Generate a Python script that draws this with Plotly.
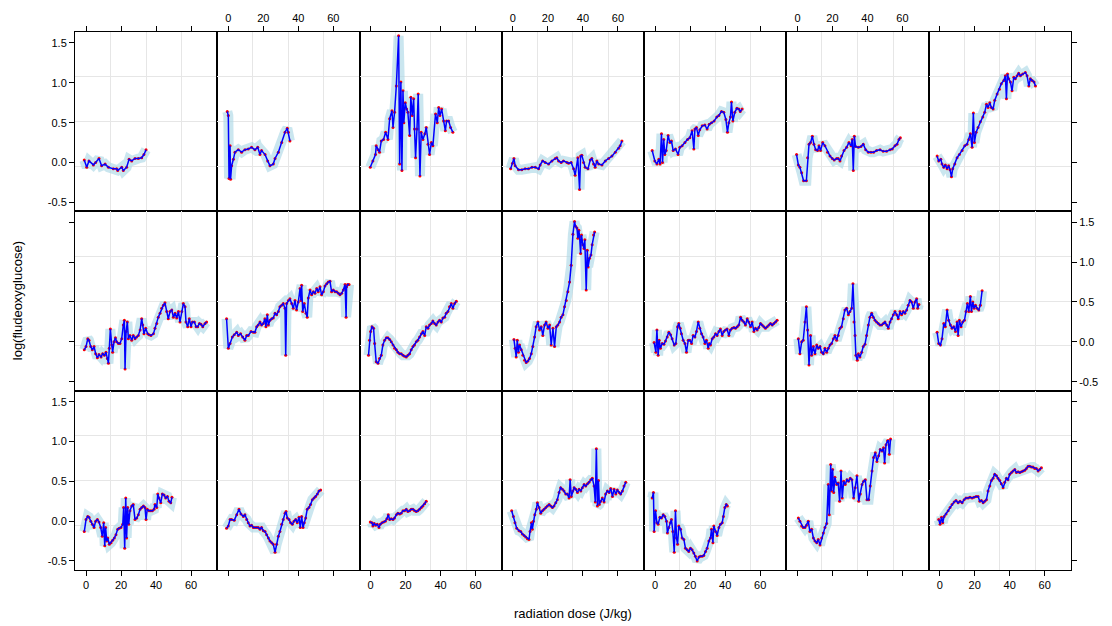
import plotly.graph_objects as go
from plotly.subplots import make_subplots

# ---------------- data ----------------
dose_r1c1 = [-1.0, 0.4, 1.7, 4.2, 5.5, 7.4, 8.9, 10.9, 12.8, 15.6, 17.5, 18.1, 20.4, 21.3, 23.2, 24.6, 26.1, 28.0, 29.9, 31.8, 33.1, 34.3]
fdg_r1c1 = [0.03, -0.06, 0.02, -0.03, 0.0, 0.05, -0.04, -0.02, -0.06, -0.08, -0.08, -0.10, -0.06, -0.10, -0.06, 0.04, 0.02, 0.05, 0.05, 0.06, 0.10, 0.16]

dose_r1c2 = [-0.6, 0.0, 0.4, 1.0, 1.3, 1.9, 2.9, 3.8, 5.7, 7.6, 9.5, 11.4, 13.3, 15.2, 16.8, 18.1, 19.0, 21.0, 22.5, 23.8, 25.7, 26.7, 28.6, 30.5, 32.4, 33.7, 34.3, 35.2]
fdg_r1c2 = [0.64, 0.59, -0.20, 0.21, -0.21, -0.04, 0.04, 0.13, 0.16, 0.13, 0.16, 0.17, 0.19, 0.16, 0.19, 0.10, 0.15, 0.10, 0.02, -0.04, -0.02, 0.05, 0.13, 0.25, 0.38, 0.43, 0.38, 0.27]

dose_r1c3 = [-0.2, 1.3, 2.8, 3.2, 4.2, 5.1, 6.1, 7.4, 8.6, 9.9, 10.9, 12.2, 12.8, 13.7, 14.7, 16.0, 16.6, 17.3, 17.9, 18.5,
             19.0, 19.8, 20.6, 21.3, 22.3, 23.0, 23.8, 24.6, 25.1, 25.7, 26.5, 27.2, 28.2, 28.9, 29.9, 31.0, 31.8, 32.8, 33.7, 34.7,
             35.6, 37.1, 38.1, 38.9, 39.6, 40.6, 41.7, 42.7, 43.4, 44.6, 45.7, 47.0]
fdg_r1c3 = [-0.06, 0.02, 0.10, 0.21, 0.16, 0.13, 0.27, 0.29, 0.38, 0.29, 0.55, 0.65, 0.44, 0.63, 0.96, 1.59, -0.02, 1.01, -0.10, 0.90,
            0.50, 0.75, 0.67, 0.63, 0.34, 0.82, 0.59, 0.80, 0.42, 0.06, 0.42, 0.86, -0.17, 0.38, 0.29, 0.36, 0.44, 0.23, 0.10, 0.25,
            0.21, 0.61, 0.50, 0.69, 0.59, 0.67, 0.52, 0.40, 0.52, 0.52, 0.44, 0.38]

dose_r1c4 = [-1.3, -0.2, 0.6, 1.3, 3.2, 5.1, 7.0, 8.9, 10.9, 12.8, 14.7, 15.6, 17.0, 18.5, 20.4, 22.3, 24.2, 25.1, 26.1, 27.6,
             28.9, 30.9, 31.8, 33.3, 34.7, 35.6, 37.1, 38.1, 38.7, 39.4, 40.4, 41.3, 42.9, 44.2, 45.1, 46.1, 47.0, 48.0, 49.0, 50.9,
             52.8, 54.7, 56.6, 58.5, 60.4, 61.3, 62.3]
fdg_r1c4 = [-0.08, -0.01, 0.05, -0.04, -0.09, -0.09, -0.08, -0.08, -0.06, -0.06, -0.08, -0.03, 0.02, 0.0, -0.02, 0.02, 0.05, 0.06, 0.02, 0.0,
            0.02, 0.0, -0.01, 0.0, -0.08, -0.16, 0.06, -0.34, 0.08, 0.09, 0.0, -0.06, -0.08, 0.03, 0.05, -0.02, -0.06, 0.02, -0.02, -0.03,
            0.02, 0.05, 0.08, 0.13, 0.18, 0.21, 0.27]

dose_r1c5 = [-1.7, -0.2, 1.0, 2.1, 2.8, 3.6, 4.2, 4.9, 5.5, 6.3, 7.4, 8.4, 9.3, 10.3, 11.6, 13.1, 14.1, 15.4, 17.0, 18.5,
             19.8, 21.1, 22.1, 22.7, 23.6, 24.6, 25.5, 26.9, 28.4, 29.7, 30.9, 32.2, 33.7, 35.2, 36.4, 37.9, 39.2, 40.4, 41.3, 42.1,
             43.0, 43.6, 44.4, 45.5, 46.7, 47.8, 48.6, 49.7]
fdg_r1c5 = [0.15, 0.02, -0.02, 0.04, -0.02, 0.36, 0.0, 0.29, 0.10, 0.15, 0.34, 0.25, 0.27, 0.15, 0.17, 0.10, 0.19, 0.21, 0.25, 0.29,
            0.31, 0.40, 0.17, 0.42, 0.44, 0.34, 0.41, 0.46, 0.47, 0.42, 0.48, 0.50, 0.52, 0.57, 0.59, 0.64, 0.63, 0.54, 0.38, 0.50,
            0.57, 0.76, 0.52, 0.63, 0.68, 0.67, 0.64, 0.67]

dose_r1c6 = [-0.5, 0.5, 1.4, 2.4, 3.5, 5.1, 5.8, 6.6, 7.5, 8.5, 9.4, 10.4, 11.5, 12.3, 13.2, 14.4, 15.7, 17.2, 18.6, 19.9,
             21.0, 22.4, 23.3, 24.3, 25.2, 26.6, 28.1, 29.4, 30.6, 31.3, 31.9, 32.5, 33.2, 34.8, 36.3, 37.6, 39.0, 40.5, 42.0, 43.5,
             45.2, 47.2, 49.0, 50.9, 52.9, 54.2, 55.7, 56.9, 58.0, 58.8]
fdg_r1c6 = [0.10, -0.03, -0.06, -0.13, -0.23, -0.23, 0.06, 0.23, 0.25, 0.33, 0.23, 0.16, 0.15, 0.21, 0.15, 0.25, 0.21, 0.13, 0.08, 0.05,
            0.03, 0.05, 0.05, 0.02, 0.08, 0.15, 0.19, 0.25, 0.21, 0.29, -0.10, 0.33, 0.20, 0.19, 0.20, 0.23, 0.16, 0.13, 0.13, 0.13,
            0.15, 0.16, 0.14, 0.14, 0.16, 0.17, 0.21, 0.23, 0.29, 0.31]

dose_r1c7 = [-1.5, -0.6, 0.6, 1.3, 2.3, 3.2, 4.2, 5.1, 5.9, 6.7, 7.4, 8.6, 9.9, 11.2, 12.8, 14.3, 15.6, 16.6, 17.5, 18.5,
             19.2, 19.8, 20.8, 21.9, 23.2, 24.6, 25.7, 26.7, 27.6, 28.6, 29.5, 30.5, 31.4, 32.8, 34.1, 35.2, 36.6, 37.5, 38.1, 38.7,
             39.4, 40.4, 41.3, 42.3, 43.2, 44.2, 45.1, 46.1, 47.4, 48.9, 49.9, 50.9, 51.8, 52.8, 53.9, 54.7]
fdg_r1c7 = [0.08, 0.02, 0.04, -0.02, -0.06, -0.03, -0.08, -0.04, -0.09, -0.18, -0.08, -0.02, 0.06, 0.10, 0.15, 0.21, 0.23, 0.29, 0.36, 0.19,
            0.62, 0.25, 0.38, 0.44, 0.51, 0.57, 0.63, 0.73, 0.69, 0.75, 0.69, 0.67, 0.78, 0.86, 0.92, 0.99, 1.03, 1.09, 0.80, 1.11,
            1.05, 1.01, 0.90, 1.07, 1.05, 1.09, 1.12, 1.09, 1.11, 1.13, 1.09, 0.96, 1.05, 1.03, 1.01, 0.96]

dose_r2c1 = [-1.0, 0.0, 1.0, 1.7, 2.7, 3.6, 4.6, 5.5, 6.5, 7.4, 8.6, 9.5, 10.5, 11.4, 12.2, 12.8, 13.3, 13.9, 14.7, 15.2,
             16.0, 16.8, 17.5, 18.5, 19.4, 20.4, 21.3, 21.9, 22.3, 22.9, 23.6, 24.2, 25.1, 26.1, 27.0, 28.0, 28.9, 29.9, 30.9, 31.8,
             32.4, 33.1, 34.1, 35.2, 36.0, 37.1, 38.5, 39.4, 40.4, 41.3, 42.3, 43.2, 44.2, 45.1, 46.1, 47.0, 48.0, 49.0, 49.9, 50.9,
             51.8, 52.8, 53.7, 54.7, 55.6, 56.6, 57.1, 58.1, 59.0, 60.0, 60.8, 61.9, 62.9, 63.8, 64.8, 65.7, 66.7, 68.0, 68.9]
fdg_r2c1 = [-0.10, -0.06, 0.04, 0.02, -0.06, -0.10, -0.06, -0.15, -0.20, -0.16, -0.19, -0.15, -0.17, -0.13, -0.21, -0.27, -0.08, 0.16, -0.04, -0.13,
            0.0, 0.05, 0.0, -0.02, -0.02, 0.04, 0.21, 0.27, -0.34, 0.13, 0.25, 0.04, 0.08, 0.02, 0.08, 0.04, 0.06, 0.08, 0.15, 0.29,
            0.21, 0.10, 0.17, 0.10, 0.09, 0.08, 0.10, 0.17, 0.23, 0.31, 0.36, 0.42, 0.46, 0.49, 0.38, 0.29, 0.38, 0.40, 0.31, 0.36,
            0.30, 0.38, 0.25, 0.38, 0.48, 0.44, 0.25, 0.19, 0.29, 0.19, 0.25, 0.25, 0.19, 0.19, 0.23, 0.22, 0.19, 0.23, 0.25]

dose_r2c2 = [-1.0, 0.0, 1.0, 2.3, 3.4, 4.8, 5.7, 7.0, 8.2, 9.5, 10.5, 11.4, 13.0, 14.3, 15.2, 16.2, 17.1, 18.1, 19.0, 20.0,
             20.9, 21.5, 22.3, 22.9, 23.8, 24.8, 25.7, 26.7, 27.6, 28.6, 29.5, 30.5, 31.4, 32.4, 32.8, 33.3, 34.3, 35.2, 36.2, 37.1,
             38.1, 39.0, 40.0, 41.0, 41.5, 41.9, 42.5, 43.4, 44.4, 45.1, 45.7, 46.7, 47.6, 48.6, 49.5, 50.5, 51.4, 52.4, 53.3, 54.3,
             55.2, 56.2, 57.1, 58.1, 59.0, 60.0, 61.0, 61.9, 62.9, 63.8, 64.8, 65.7, 66.7, 67.3, 67.6, 68.2, 69.0]
fdg_r2c2 = [0.29, -0.08, -0.02, 0.06, 0.09, 0.12, 0.08, 0.10, 0.06, 0.02, 0.08, 0.08, 0.13, 0.12, 0.12, 0.19, 0.21, 0.25, 0.21, 0.23,
            0.29, 0.19, 0.34, 0.21, 0.27, 0.29, 0.30, 0.36, 0.34, 0.38, 0.44, 0.46, 0.48, 0.42, -0.17, 0.48, 0.52, 0.54, 0.48, 0.42,
            0.52, 0.40, 0.50, 0.67, 0.52, 0.71, 0.38, 0.48, 0.36, 0.31, 0.55, 0.65, 0.59, 0.63, 0.61, 0.67, 0.63, 0.69, 0.59, 0.63,
            0.70, 0.73, 0.75, 0.76, 0.63, 0.65, 0.63, 0.63, 0.61, 0.59, 0.61, 0.65, 0.72, 0.31, 0.69, 0.72, 0.72]

dose_r2c3 = [-1.2, -0.6, 0.0, 0.8, 1.7, 2.3, 3.2, 4.2, 5.1, 6.1, 7.0, 8.0, 9.0, 9.9, 10.9, 11.8, 12.8, 13.7, 14.7, 15.6,
             16.6, 17.5, 18.5, 19.4, 20.4, 21.3, 22.3, 23.2, 24.2, 25.1, 26.1, 27.0, 28.0, 29.0, 29.9, 30.9, 31.8, 32.8, 33.7, 34.7,
             35.6, 36.6, 37.5, 38.5, 39.4, 40.4, 41.3, 42.3, 43.2, 44.2, 45.1, 46.1, 47.0, 48.0, 49.0]
fdg_r2c3 = [-0.17, 0.02, 0.13, 0.19, 0.17, -0.02, -0.25, -0.27, -0.21, -0.17, -0.04, 0.02, 0.05, 0.05, 0.03, 0.0, -0.04, -0.08, -0.10, -0.13,
            -0.15, -0.15, -0.17, -0.18, -0.19, -0.17, -0.15, -0.10, -0.06, -0.04, 0.0, 0.02, 0.06, 0.10, 0.13, 0.08, 0.19, 0.17, 0.21, 0.23,
            0.26, 0.23, 0.21, 0.25, 0.27, 0.25, 0.30, 0.31, 0.36, 0.38, 0.44, 0.48, 0.42, 0.48, 0.51]

dose_r2c4 = [0.6, 1.3, 1.9, 2.5, 3.2, 3.8, 4.8, 5.7, 6.7, 7.6, 8.6, 9.5, 10.5, 11.4, 12.4, 13.3, 14.3, 15.2, 16.2, 17.1,
             18.1, 19.0, 20.0, 21.0, 21.9, 22.9, 23.8, 24.8, 25.7, 26.7, 27.6, 28.6, 29.5, 30.5, 31.4, 32.4, 33.3, 34.3, 35.2, 35.8,
             36.6, 37.1, 37.7, 38.1, 38.7, 39.2, 40.0, 40.6, 41.1, 41.9, 42.5, 43.0, 43.8, 44.6, 45.3, 46.1, 46.7]
fdg_r2c4 = [0.03, -0.08, -0.19, 0.02, -0.13, -0.04, -0.10, -0.17, -0.23, -0.26, -0.24, -0.21, -0.15, -0.06, 0.06, 0.19, 0.25, 0.15, 0.19, 0.08,
            0.21, 0.25, 0.17, 0.21, -0.04, 0.17, -0.06, 0.19, 0.21, 0.25, 0.31, 0.34, 0.44, 0.52, 0.63, 0.75, 0.96, 1.35, 1.51, 1.45,
            1.43, 1.30, 1.40, 1.32, 1.11, 1.34, 1.22, 1.17, 1.28, 0.65, 1.15, 0.94, 1.05, 1.09, 1.22, 1.34, 1.38]

dose_r2c5 = [-0.6, 0.4, 1.0, 1.7, 2.3, 3.0, 4.0, 5.0, 5.9, 6.9, 7.8, 8.8, 9.7, 10.9, 11.8, 12.8, 13.5, 14.3, 15.0, 16.0,
             17.0, 17.9, 18.9, 19.8, 20.8, 21.7, 22.7, 23.6, 24.6, 25.5, 26.5, 27.4, 28.4, 29.3, 30.3, 30.9, 31.6, 32.6, 33.5, 34.5,
             35.4, 36.4, 37.3, 38.3, 39.2, 40.2, 41.1, 42.1, 43.0, 44.0, 45.0, 45.9, 46.9, 47.8, 48.8, 49.7, 50.7, 51.6, 52.6, 53.5,
             54.5, 55.4, 56.4, 57.3, 58.3, 59.2, 60.2, 61.1, 62.1, 63.0, 64.0, 65.0, 65.9, 66.9, 67.8, 68.8, 69.7]
fdg_r2c5 = [-0.01, -0.13, 0.15, -0.17, 0.02, -0.08, -0.02, -0.03, 0.01, 0.06, 0.12, 0.09, 0.04, -0.04, -0.02, 0.19, 0.23, 0.17, 0.10, 0.02,
            -0.02, -0.13, 0.02, 0.02, -0.02, 0.08, 0.06, 0.13, 0.25, 0.17, 0.10, 0.06, -0.02, 0.02, -0.08, -0.02, -0.04, 0.04, 0.06, 0.10,
            0.08, 0.13, 0.16, 0.08, 0.13, 0.15, 0.16, 0.08, 0.15, 0.17, 0.18, 0.17, 0.19, 0.21, 0.31, 0.27, 0.25, 0.21, 0.29, 0.25,
            0.19, 0.25, 0.13, 0.17, 0.15, 0.18, 0.23, 0.21, 0.19, 0.17, 0.19, 0.21, 0.23, 0.21, 0.23, 0.25, 0.27]

dose_r2c6 = [0.5, 1.4, 2.4, 3.3, 4.3, 5.1, 5.8, 6.6, 7.5, 8.1, 9.1, 10.0, 11.0, 11.9, 12.9, 13.8, 14.8, 15.7, 16.7, 17.6,
             18.6, 19.5, 20.5, 21.4, 22.4, 23.3, 24.3, 25.2, 26.2, 27.1, 28.1, 29.1, 30.0, 31.0, 31.7, 32.3, 32.9, 33.4, 34.2, 34.8,
             35.7, 36.7, 37.6, 38.6, 39.5, 40.5, 41.4, 42.4, 43.3, 44.3, 45.2, 46.2, 47.1, 48.1, 49.1, 50.0, 51.0, 51.9, 52.9, 53.8,
             54.8, 55.7, 56.7, 57.6, 58.6, 59.5, 60.5, 61.4, 62.4, 63.3, 64.3, 65.2, 66.2, 67.1, 68.1, 68.7, 69.4]
fdg_r2c6 = [0.04, -0.15, 0.0, 0.02, 0.25, 0.44, 0.15, -0.29, 0.08, -0.17, -0.06, -0.15, -0.04, -0.08, -0.06, -0.13, -0.15, -0.08, -0.13, -0.08,
            -0.04, -0.02, 0.04, 0.08, 0.02, 0.08, 0.17, 0.19, 0.29, 0.40, 0.42, 0.34, 0.38, 0.42, 0.73, 0.25, 0.08, -0.17, -0.23, -0.15,
            -0.19, -0.13, -0.06, -0.03, 0.08, 0.21, 0.31, 0.36, 0.31, 0.27, 0.25, 0.23, 0.21, 0.21, 0.23, 0.25, 0.21, 0.17, 0.25, 0.29,
            0.34, 0.38, 0.34, 0.29, 0.38, 0.34, 0.38, 0.36, 0.40, 0.46, 0.52, 0.50, 0.42, 0.50, 0.54, 0.42, 0.47]

dose_r2c7 = [-1.5, -0.6, 0.4, 1.3, 2.3, 3.2, 4.2, 5.1, 6.1, 7.0, 8.0, 9.0, 9.9, 10.5, 11.2, 12.2, 13.1, 14.1, 15.0, 15.8,
             16.6, 17.5, 18.1, 18.9, 19.6, 20.4, 21.3, 22.3, 23.2, 24.2]
fdg_r2c7 = [0.12, -0.02, -0.04, 0.04, 0.23, 0.19, 0.40, 0.27, 0.21, 0.17, 0.19, 0.13, 0.25, 0.08, 0.27, 0.19, 0.25, 0.27, 0.38, 0.48,
            0.38, 0.57, 0.38, 0.50, 0.42, 0.46, 0.42, 0.40, 0.46, 0.64]

dose_r3c1 = [-1.0, 0.0, 1.0, 1.7, 2.7, 3.6, 4.6, 5.5, 6.5, 7.4, 8.4, 9.3, 10.1, 10.7, 11.2, 11.8, 12.4, 13.3, 14.3, 15.2,
             16.2, 17.1, 18.1, 19.0, 20.0, 21.0, 21.5, 22.1, 22.7, 23.2, 23.8, 24.4, 25.1, 26.1, 27.0, 28.0, 29.0, 29.9, 30.9, 31.8,
             32.8, 33.7, 34.3, 35.0, 36.0, 37.0, 37.9, 38.9, 39.4, 40.4, 41.0, 41.7, 42.7, 43.6, 44.6, 45.5, 46.5, 47.4, 48.4, 49.1]
fdg_r3c1 = [-0.13, 0.02, 0.06, 0.05, 0.0, -0.04, -0.08, 0.0, 0.02, -0.01, -0.08, -0.19, -0.02, -0.31, -0.08, -0.25, -0.21, -0.29, -0.27, -0.24,
            -0.21, -0.17, -0.10, -0.09, -0.08, -0.04, 0.17, -0.34, 0.29, -0.21, 0.17, -0.04, 0.13, 0.19, 0.21, 0.02, 0.04, 0.08, 0.15, 0.17,
            0.19, 0.17, 0.02, 0.15, 0.13, 0.13, 0.13, 0.15, 0.21, 0.17, 0.34, 0.29, 0.23, 0.34, 0.33, 0.29, 0.31, 0.25, 0.23, 0.30]

dose_r3c2 = [-1.0, 0.0, 1.0, 1.9, 3.4, 4.8, 6.1, 7.2, 8.6, 9.5, 10.5, 11.4, 12.4, 13.3, 14.3, 15.2, 16.2, 17.1, 18.1, 19.0,
             20.0, 21.0, 21.9, 22.9, 23.8, 24.8, 25.7, 26.7, 27.6, 28.6, 29.5, 30.5, 31.4, 32.4, 33.0, 33.7, 34.7, 35.6, 36.6, 37.5,
             38.5, 39.4, 40.4, 41.1, 41.9, 42.7, 43.4, 44.2, 45.1, 46.1, 47.0, 48.0, 49.0, 49.9, 50.9, 51.8, 52.8]
fdg_r3c2 = [-0.09, -0.06, 0.02, 0.02, 0.01, 0.08, 0.15, 0.09, 0.06, 0.08, 0.02, -0.02, -0.06, -0.05, -0.08, -0.08, -0.08, -0.08, -0.10, -0.08,
            -0.12, -0.13, -0.17, -0.21, -0.25, -0.27, -0.29, -0.39, -0.29, -0.19, -0.13, -0.04, 0.02, 0.10, 0.12, 0.04, 0.02, -0.02, -0.04, 0.0,
            0.02, -0.02, 0.05, -0.08, 0.06, -0.08, -0.02, 0.04, 0.15, 0.17, 0.21, 0.27, 0.29, 0.31, 0.34, 0.38, 0.39]

dose_r3c3 = [-0.2, 0.8, 1.3, 2.1, 2.9, 3.8, 4.8, 5.5, 6.5, 7.4, 8.4, 9.3, 10.1, 10.9, 11.8, 12.8, 13.7, 14.7, 15.6, 16.6,
             17.5, 18.5, 19.4, 20.4, 21.3, 22.3, 23.2, 24.2, 25.1, 26.1, 27.0, 28.0, 29.0, 29.9, 30.9, 31.8]
fdg_r3c3 = [-0.01, -0.02, -0.06, -0.03, -0.05, -0.04, -0.08, -0.04, -0.02, -0.01, 0.0, 0.03, 0.08, 0.02, 0.03, 0.02, 0.04, 0.08, 0.10, 0.09,
            0.10, 0.13, 0.13, 0.15, 0.12, 0.13, 0.15, 0.15, 0.13, 0.12, 0.13, 0.15, 0.17, 0.19, 0.22, 0.25]

dose_r3c4 = [-0.7, 0.3, 1.2, 2.2, 3.5, 4.5, 5.4, 6.4, 7.3, 8.3, 9.2, 9.8, 10.6, 11.1, 11.7, 12.5, 13.4, 14.0, 15.0, 15.9,
             16.9, 17.8, 18.8, 19.7, 20.7, 21.6, 22.6, 23.5, 24.5, 25.4, 26.4, 27.3, 28.3, 29.2, 30.2, 31.1, 32.1, 32.7, 33.4, 34.2,
             35.0, 35.9, 36.9, 37.8, 38.8, 39.7, 40.7, 41.6, 42.6, 43.5, 44.5, 45.4, 46.4, 47.1, 47.7, 48.3, 48.9, 49.4, 50.2, 51.1,
             52.1, 53.0, 54.0, 55.0, 55.9, 56.9, 57.8, 58.8, 59.7, 60.7, 61.6, 62.6, 63.5, 64.5]
fdg_r3c4 = [0.13, 0.06, -0.02, -0.09, -0.12, -0.13, -0.16, -0.18, -0.20, -0.22, -0.23, -0.13, -0.02, -0.10, 0.0, 0.08, 0.15, 0.23, 0.17, 0.10,
            0.13, 0.15, 0.17, 0.19, 0.21, 0.19, 0.17, 0.19, 0.23, 0.27, 0.36, 0.42, 0.40, 0.38, 0.34, 0.34, 0.29, 0.52, 0.31, 0.38,
            0.42, 0.40, 0.36, 0.40, 0.38, 0.42, 0.46, 0.44, 0.47, 0.49, 0.52, 0.54, 0.44, 0.24, 0.91, 0.19, 0.51, 0.21, 0.25, 0.29,
            0.24, 0.34, 0.38, 0.36, 0.41, 0.31, 0.40, 0.34, 0.39, 0.36, 0.34, 0.38, 0.44, 0.49]

dose_r3c5 = [-1.7, -1.0, -0.6, 0.2, 1.0, 1.7, 2.7, 3.6, 4.6, 5.5, 6.5, 7.0, 7.8, 8.6, 9.3, 10.1, 10.9, 11.6, 12.2, 12.8,
             13.5, 14.5, 15.4, 16.4, 17.3, 18.3, 19.2, 20.2, 21.1, 22.1, 23.0, 24.0, 25.0, 25.9, 26.9, 27.8, 28.8, 29.7, 30.7, 31.6,
             32.2, 33.0, 33.5, 34.5, 35.4, 36.4, 37.3, 38.3, 39.0, 39.8, 40.6, 41.3]
fdg_r3c5 = [0.29, 0.36, -0.13, 0.13, -0.02, -0.04, 0.05, 0.04, 0.08, 0.06, 0.0, -0.15, -0.08, -0.02, 0.02, -0.13, -0.39, 0.13, -0.21, -0.29,
            -0.06, -0.10, -0.21, -0.23, -0.34, -0.36, -0.38, -0.34, -0.36, -0.40, -0.44, -0.50, -0.45, -0.44, -0.44, -0.43, -0.38, -0.34, -0.25, -0.21,
            -0.10, -0.27, -0.06, -0.13, -0.18, -0.08, -0.04, -0.02, 0.06, 0.17, 0.21, 0.19]

dose_r3c6 = [0.5, 1.4, 2.4, 3.3, 4.3, 5.2, 6.2, 7.1, 8.1, 9.1, 10.0, 11.0, 11.9, 12.9, 13.8, 14.8, 15.7, 16.7, 17.6, 18.2,
             19.0, 19.5, 20.1, 20.7, 21.4, 22.4, 23.3, 24.1, 24.9, 25.6, 26.4, 27.3, 28.3, 29.2, 30.2, 31.1, 32.1, 33.0, 34.0, 35.0,
             35.9, 36.9, 37.8, 38.8, 39.7, 40.7, 41.6, 42.6, 43.5, 44.5, 45.4, 46.4, 47.3, 48.3, 49.2, 49.8, 50.6, 51.5, 51.9, 52.5,
             53.2]
fdg_r3c6 = [0.04, 0.0, -0.06, -0.08, -0.08, -0.05, 0.0, -0.13, -0.10, -0.21, -0.25, -0.27, -0.23, -0.30, -0.21, -0.15, -0.08, -0.03, 0.46, 0.08,
            0.71, 0.38, 0.65, 0.36, 0.55, 0.46, 0.48, 0.25, 0.63, 0.29, 0.50, 0.46, 0.52, 0.50, 0.54, 0.52, 0.29, 0.42, 0.57, 0.25,
            0.34, 0.46, 0.50, 0.52, 0.27, 0.27, 0.44, 0.63, 0.80, 0.86, 0.75, 0.82, 0.90, 0.88, 0.92, 0.73, 0.96, 1.01, 1.01, 0.84,
            1.03]

dose_r3c7 = [-0.6, 0.2, 1.0, 1.7, 2.5, 3.6, 4.8, 5.9, 7.0, 8.2, 9.3, 10.5, 11.6, 12.8, 13.9, 15.0, 16.2, 17.3, 18.5, 19.6,
             20.8, 21.9, 22.9, 23.8, 24.8, 25.7, 26.7, 27.6, 28.6, 29.5, 30.5, 31.4, 32.4, 33.3, 34.3, 35.2, 36.2, 37.1, 38.1, 39.0,
             40.0, 41.0, 41.9, 42.9, 43.8, 44.8, 45.7, 46.7, 47.6, 48.6, 49.5, 50.5, 51.4, 52.4, 53.3, 54.3, 55.2, 56.2, 57.1, 58.1]
fdg_r3c7 = [0.02, -0.04, 0.05, -0.02, 0.06, 0.09, 0.13, 0.17, 0.21, 0.24, 0.26, 0.23, 0.25, 0.23, 0.27, 0.29, 0.29, 0.30, 0.29, 0.30,
            0.31, 0.31, 0.25, 0.26, 0.23, 0.25, 0.27, 0.38, 0.44, 0.51, 0.54, 0.59, 0.57, 0.54, 0.51, 0.47, 0.42, 0.49, 0.54, 0.52,
            0.59, 0.61, 0.63, 0.65, 0.61, 0.62, 0.61, 0.62, 0.63, 0.64, 0.66, 0.69, 0.69, 0.68, 0.68, 0.66, 0.66, 0.63, 0.65, 0.67]

x_ticks = [0, 20, 40, 60]
x_ticklabels = ["0", "20", "40", "60"]
y_ticks = [-0.5, 0.0, 0.5, 1.0, 1.5]
y_ticklabels = ["-0.5", "0.0", "0.5", "1.0", "1.5"]

panels = {
    (1, 1): (dose_r1c1, fdg_r1c1), (1, 2): (dose_r1c2, fdg_r1c2), (1, 3): (dose_r1c3, fdg_r1c3),
    (1, 4): (dose_r1c4, fdg_r1c4), (1, 5): (dose_r1c5, fdg_r1c5), (1, 6): (dose_r1c6, fdg_r1c6),
    (1, 7): (dose_r1c7, fdg_r1c7),
    (2, 1): (dose_r2c1, fdg_r2c1), (2, 2): (dose_r2c2, fdg_r2c2), (2, 3): (dose_r2c3, fdg_r2c3),
    (2, 4): (dose_r2c4, fdg_r2c4), (2, 5): (dose_r2c5, fdg_r2c5), (2, 6): (dose_r2c6, fdg_r2c6),
    (2, 7): (dose_r2c7, fdg_r2c7),
    (3, 1): (dose_r3c1, fdg_r3c1), (3, 2): (dose_r3c2, fdg_r3c2), (3, 3): (dose_r3c3, fdg_r3c3),
    (3, 4): (dose_r3c4, fdg_r3c4), (3, 5): (dose_r3c5, fdg_r3c5), (3, 6): (dose_r3c6, fdg_r3c6),
    (3, 7): (dose_r3c7, fdg_r3c7),
}

# ---------------- figure ----------------
X_RANGE = [-6.3, 75.0]
Y_RANGE = [-0.613, 1.638]
NROW, NCOL = 3, 7

fig = make_subplots(rows=NROW, cols=NCOL, horizontal_spacing=0, vertical_spacing=0)

for (r, c), (xs, ys) in panels.items():
    fig.add_trace(go.Scatter(x=xs, y=ys, mode="lines",
                             line=dict(color="rgba(173,216,230,0.65)", width=10),
                             hoverinfo="skip"), row=r, col=c)
    fig.add_trace(go.Scatter(x=xs, y=ys, mode="markers",
                             marker=dict(color="#FF0000", size=3),
                             hoverinfo="skip"), row=r, col=c)
    fig.add_trace(go.Scatter(x=xs, y=ys, mode="lines",
                             line=dict(color="#0000FF", width=1.5)), row=r, col=c)

def quarters(rng):
    w = rng[1] - rng[0]
    return [rng[0] + w * k / 4 for k in (1, 2, 3)]

tick_font = dict(family="Liberation Sans, Arial, sans-serif", size=11, color="black")
common = dict(showline=True, mirror=True, linecolor="black", linewidth=1,
              zeroline=False, showgrid=False, ticklen=5, tickcolor="black",
              tickwidth=1, tickfont=tick_font, fixedrange=True)

for r in range(1, NROW + 1):
    for c in range(1, NCOL + 1):
        xa = dict(common, range=X_RANGE, tickmode="array", tickvals=x_ticks, ticktext=x_ticklabels,
                  minor=dict(tickmode="array", tickvals=quarters(X_RANGE), showgrid=True,
                             gridcolor="#E6E6E6", gridwidth=1, ticks=""))
        if r == NROW:
            xa.update(side="bottom", ticks="outside", showticklabels=(c % 2 == 1))
        elif r == 1:
            xa.update(side="top", ticks="outside", showticklabels=(c % 2 == 0))
        else:
            xa.update(ticks="", showticklabels=False)
        ya = dict(common, range=Y_RANGE, tickmode="array", tickvals=y_ticks, ticktext=y_ticklabels,
                  minor=dict(tickmode="array", tickvals=quarters(Y_RANGE), showgrid=True,
                             gridcolor="#E6E6E6", gridwidth=1, ticks=""))
        if c == 1:
            ya.update(side="left", ticks="outside", showticklabels=(r != 2))
        elif c == NCOL:
            ya.update(side="right", ticks="outside", showticklabels=(r == 2))
        else:
            ya.update(ticks="", showticklabels=False)
        fig.update_xaxes(xa, row=r, col=c)
        fig.update_yaxes(ya, row=r, col=c)

fig.update_layout(
    width=1112, height=626,
    margin=dict(l=75, r=41, t=32, b=56),
    plot_bgcolor="white", paper_bgcolor="white",
    showlegend=False,
    font=dict(family="Liberation Sans, Arial, sans-serif", size=11, color="black"),
    annotations=[
        dict(text="radiation dose (J/kg)", xref="paper", yref="paper", x=0.5, y=-0.08,
             xanchor="center", yanchor="middle", showarrow=False,
             font=dict(family="Liberation Sans, Arial, sans-serif", size=13, color="black")),
        dict(text="log(fludeoxyglucose)", xref="paper", yref="paper", x=-0.058, y=0.5,
             xanchor="center", yanchor="middle", textangle=-90, showarrow=False,
             font=dict(family="Liberation Sans, Arial, sans-serif", size=13, color="black")),
    ],
)

fig.write_html("out.html",
               config={"displayModeBar": False},
               post_script="document.body.style.margin='0px';document.body.style.padding='0px';")
